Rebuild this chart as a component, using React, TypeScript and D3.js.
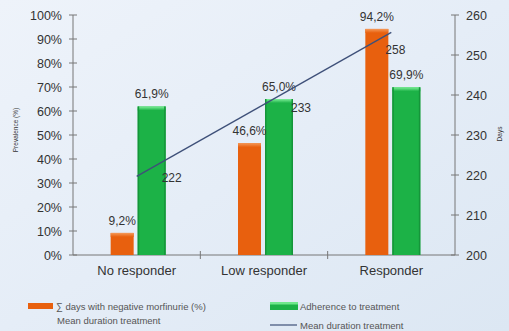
import React, { useEffect } from "react";
import * as d3 from "d3";

const categories = ["No responder", "Low responder", "Responder"];
const negativeMorfinurie = [9.2, 46.6, 94.2];
const adherence = [61.9, 65.0, 69.9];
const meanDuration = [222, 233, 258];
const leftTicks = [0, 10, 20, 30, 40, 50, 60, 70, 80, 90, 100];
const rightTicks = [200, 210, 220, 230, 240, 250, 260];
const legendLabels = [
  "\u2211 days with negative morfinurie (%)",
  "Mean duration treatment",
  "Adherence to treatment",
  "Mean duration treatment",
];

// label placement offsets for the line values (style only)
const lineLabelOffsets = [
  { dx: 25, dy: 15 },
  { dx: 27, dy: -11 },
  { dx: -6, dy: 31 },
];

const W = 509;
const H = 331;
const FONT = "'Liberation Sans', Arial, sans-serif";
const ORANGE = "#e8600e";
const GREEN = "#1cb247";
const LINE = "#3e5079";
const TXT = "#333";

const fmt = (v: number) => v.toFixed(1).replace(".", ",") + "%";

export default function App() {
  useEffect(() => {
    document.body.style.margin = "0";
  }, []);

  const x0 = 73, x1 = 455, yTop = 15, yBot = 255;
  const x = d3.scaleBand<string>().domain(categories).range([x0, x1]).padding(0);
  const yL = d3.scaleLinear().domain([0, 100]).range([yBot, yTop]);
  const yR = d3.scaleLinear().domain([200, 260]).range([yBot, yTop]);
  const cx = (c: string) => (x(c) as number) + x.bandwidth() / 2;

  // linear trendline of mean duration
  const idx = meanDuration.map((_, i) => i);
  const mx = d3.mean(idx) as number;
  const my = d3.mean(meanDuration) as number;
  const slope =
    d3.sum(idx, (i) => (i - mx) * (meanDuration[i] - my)) /
    d3.sum(idx, (i) => (i - mx) * (i - mx));
  const trend = idx.map((i) => my + slope * (i - mx));
  const trendLine = d3
    .line<number>()
    .x((_, i) => cx(categories[i]))
    .y((d) => yR(d));

  const orangeW = 23, greenW = 28;

  return (
    <svg
      width={W}
      height={H}
      style={{ position: "absolute", left: 0, top: 0, display: "block" }}
      fontFamily={FONT}
    >
      <defs>
        <linearGradient id="bg" x1="0" y1="0" x2="1" y2="1">
          <stop offset="0" stopColor="#eef3fa" />
          <stop offset="0.5" stopColor="#e5edf7" />
          <stop offset="1" stopColor="#dce7f3" />
        </linearGradient>
        <linearGradient id="gTop" x1="0" y1="0" x2="0" y2="1">
          <stop offset="0" stopColor="#7ff09a" />
          <stop offset="1" stopColor={GREEN} />
        </linearGradient>
        <linearGradient id="oTop" x1="0" y1="0" x2="0" y2="1">
          <stop offset="0" stopColor="#f59a5a" />
          <stop offset="1" stopColor={ORANGE} />
        </linearGradient>
      </defs>
      <rect x={0} y={0} width={W} height={H} fill="url(#bg)" />

      {/* left axis */}
      <line x1={x0} x2={x0} y1={yTop} y2={yBot} stroke="#777" strokeWidth={1} />
      {leftTicks.map((t) => (
        <g key={"l" + t}>
          <line x1={x0 - 4} x2={x0 + 4} y1={yL(t)} y2={yL(t)} stroke="#777" />
          <text x={62} y={yL(t) + 4.5} textAnchor="end" fontSize={12.5} fill={TXT}>
            {t + "%"}
          </text>
        </g>
      ))}
      <text
        transform={`translate(18,130) rotate(-90)`}
        textAnchor="middle"
        fontSize={6.5}
        fill={TXT}
      >
        Prevalence (%)
      </text>

      {/* right axis */}
      <line x1={x1} x2={x1} y1={yTop} y2={yBot} stroke="#777" strokeWidth={1} />
      {rightTicks.map((t) => (
        <g key={"r" + t}>
          <line x1={x1 - 4} x2={x1 + 4} y1={yR(t)} y2={yR(t)} stroke="#777" />
          <text x={466} y={yR(t) + 4.5} textAnchor="start" fontSize={12.5} fill={TXT}>
            {t}
          </text>
        </g>
      ))}
      <text
        transform={`translate(502,134) rotate(-90)`}
        textAnchor="middle"
        fontSize={6.5}
        fill={TXT}
      >
        Days
      </text>

      {/* bottom axis */}
      <line x1={x0} x2={x1} y1={yBot} y2={yBot} stroke="#777" />
      {categories.slice(1).map((c) => (
        <line
          key={"b" + c}
          x1={x(c) as number}
          x2={x(c) as number}
          y1={yBot - 4}
          y2={yBot + 4}
          stroke="#777"
        />
      ))}
      {categories.map((c) => (
        <text key={"c" + c} x={cx(c)} y={275} textAnchor="middle" fontSize={13} fill={TXT}>
          {c}
        </text>
      ))}

      {/* bars */}
      {categories.map((c, i) => {
        const ox = cx(c) - 26;
        const gx = cx(c) + 1;
        const oy = yL(negativeMorfinurie[i]);
        const gy = yL(adherence[i]);
        return (
          <g key={"bar" + c}>
            <rect x={ox} y={oy} width={orangeW} height={yBot - oy} fill={ORANGE} />
            <rect x={ox} y={oy} width={orangeW} height={4} fill="url(#oTop)" />
            <rect x={gx} y={gy} width={greenW} height={yBot - gy} fill={GREEN} />
            <rect x={gx} y={gy} width={greenW} height={4} fill="url(#gTop)" />
            <rect x={gx} y={gy} width={1.5} height={yBot - gy} fill="#15953a" />
            <rect x={gx + greenW - 1.5} y={gy} width={1.5} height={yBot - gy} fill="#15953a" />
            <text
              x={ox + orangeW / 2}
              y={oy - 8}
              textAnchor="middle"
              fontSize={12}
              fill={TXT}
            >
              {fmt(negativeMorfinurie[i])}
            </text>
            <text
              x={gx + greenW / 2}
              y={gy - 8}
              textAnchor="middle"
              fontSize={12}
              fill={TXT}
            >
              {fmt(adherence[i])}
            </text>
          </g>
        );
      })}

      {/* trend line of mean duration */}
      <path d={trendLine(trend) as string} fill="none" stroke={LINE} strokeWidth={1.3} />
      {meanDuration.map((v, i) => (
        <text
          key={"md" + i}
          x={cx(categories[i]) + lineLabelOffsets[i].dx}
          y={yR(v) + lineLabelOffsets[i].dy}
          fontSize={12}
          fill={TXT}
        >
          {v}
        </text>
      ))}

      {/* legend */}
      <rect x={28} y={303} width={25} height={6} fill={ORANGE} />
      <text x={56} y={310} fontSize={9.5} fill="#555">
        {legendLabels[0]}
      </text>
      <text x={57} y={324} fontSize={9.5} fill="#555">
        {legendLabels[1]}
      </text>
      <rect x={270} y={302} width={28} height={8} fill={GREEN} />
      <rect x={270} y={302} width={28} height={2.5} fill="#6fe88c" />
      <text x={300} y={310} fontSize={9.5} fill="#555">
        {legendLabels[2]}
      </text>
      <line x1={270} x2={297} y1={325} y2={325} stroke={LINE} strokeWidth={1.2} />
      <text x={300} y={329} fontSize={9.5} fill="#555">
        {legendLabels[3]}
      </text>
    </svg>
  );
}
